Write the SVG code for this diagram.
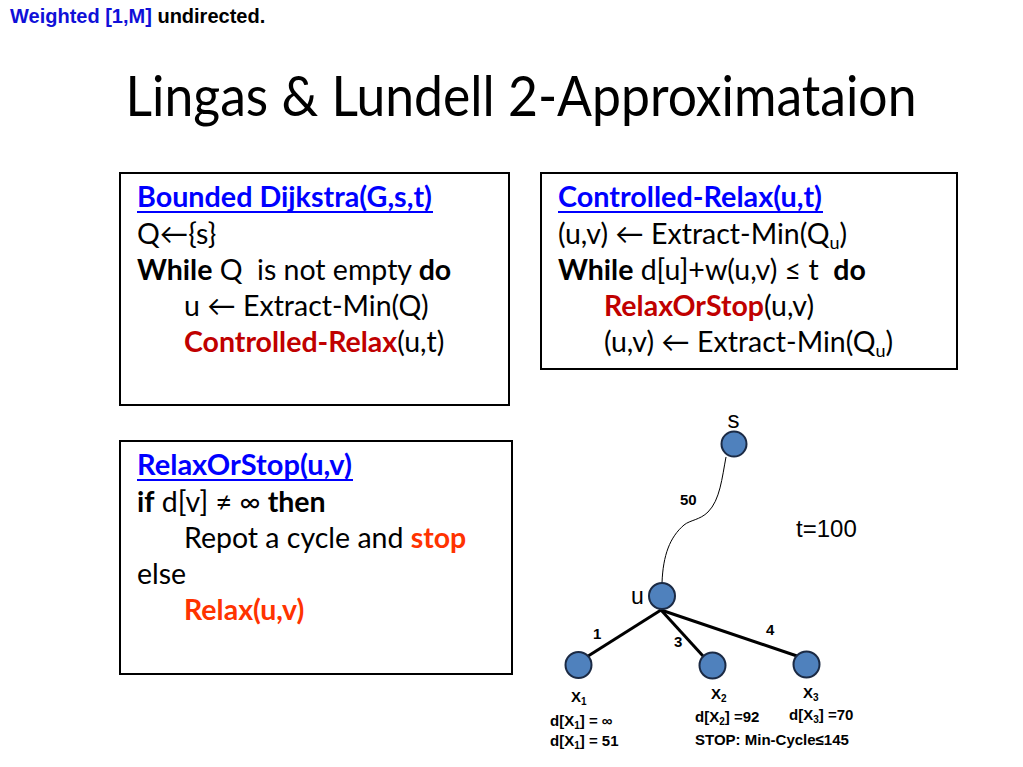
<svg xmlns="http://www.w3.org/2000/svg" width="1023" height="767" viewBox="0 0 1023 767">
<style>
.box{fill:#fff;stroke:#000;stroke-width:2}
.body{font-family:Lato,"Open Sans","Liberation Sans",sans-serif;font-size:28.5px;fill:#000;white-space:pre}
.b{font-weight:bold}
.head{font-weight:bold;fill:#0000ff}
.ul{stroke:#0000ff;stroke-width:2}
.dred{fill:#c00000;font-weight:bold}
.ored{fill:#ff3300;font-weight:bold}
.node{fill:#4f81bd;stroke:#1b2a44;stroke-width:2}
.g{font-family:"Liberation Sans",Arial,sans-serif;fill:#000}
.lbl{font-size:15px;font-weight:bold}
.edge{stroke:#000;stroke-width:3;fill:none}
</style>
<rect width="1023" height="767" fill="#fff"/>
<text x="10" y="23" class="g" font-size="20" font-weight="bold"><tspan fill="#1010d8">Weighted [1,M]</tspan> undirected.</text>
<text x="521" y="116" text-anchor="middle" font-family="Lato,'Open Sans',sans-serif" font-size="57" textLength="791" lengthAdjust="spacingAndGlyphs">Lingas &amp; Lundell 2-Approximataion</text>

<g id="bounded-dijkstra">
<rect class="box" x="120" y="173" width="389" height="232"/>
<text class="body head" x="137" y="207" textLength="295" lengthAdjust="spacingAndGlyphs">Bounded Dijkstra(G,s,t)</text>
<line class="ul" x1="137" y1="212" x2="433" y2="212"/>
<text class="body" x="137" y="244">Q←{s}</text>
<text class="body" x="137" y="280"><tspan class="b">While</tspan> Q  is not empty <tspan class="b">do</tspan></text>
<text class="body" x="184" y="316">u ← Extract-Min(Q)</text>
<text class="body" x="184" y="352"><tspan class="dred">Controlled-Relax</tspan>(u,t)</text>
</g>

<g id="controlled-relax">
<rect class="box" x="541" y="173" width="416" height="196"/>
<text class="body head" x="558" y="207" textLength="264" lengthAdjust="spacingAndGlyphs">Controlled-Relax(u,t)</text>
<line class="ul" x1="558" y1="212" x2="823" y2="212"/>
<text class="body" x="558" y="244">(u,v) ← Extract-Min(Q<tspan font-size="18" dy="5">u</tspan><tspan dy="-5">)</tspan></text>
<text class="body" x="558" y="280"><tspan class="b">While</tspan> d[u]+w(u,v) ≤ t  <tspan class="b">do</tspan></text>
<text class="body" x="604" y="316"><tspan class="dred">RelaxOrStop</tspan>(u,v)</text>
<text class="body" x="604" y="352">(u,v) ← Extract-Min(Q<tspan font-size="18" dy="5">u</tspan><tspan dy="-5">)</tspan></text>
</g>

<g id="relax-or-stop">
<rect class="box" x="120" y="441" width="392" height="233"/>
<text class="body head" x="137" y="475" textLength="215" lengthAdjust="spacingAndGlyphs">RelaxOrStop(u,v)</text>
<line class="ul" x1="137" y1="480" x2="353" y2="480"/>
<text class="body" x="137" y="512"><tspan class="b">if</tspan> d[v] ≠ ∞ <tspan class="b">then</tspan></text>
<text class="body" x="184" y="548">Repot a cycle and <tspan class="ored">stop</tspan></text>
<text class="body" x="137" y="584">else</text>
<text class="body" x="184" y="620"><tspan class="ored">Relax(u,v)</tspan></text>
</g>

<g id="connectors">
<path d="M726,457 C722,478 720,500 708,512 C700,520 690,520 684,525 C670,537 663,555 662,583" fill="none" stroke="#000" stroke-width="1"/>
<line class="edge" x1="661" y1="610" x2="585" y2="658"/>
<line class="edge" x1="661" y1="610" x2="703" y2="656"/>
<line class="edge" x1="661" y1="610" x2="797" y2="656"/>
<text class="g lbl" x="680" y="505">50</text>
<text class="g lbl" x="593" y="639">1</text>
<text class="g lbl" x="674" y="647">3</text>
<text class="g lbl" x="766" y="635">4</text>
</g>

<g id="node-s">
<circle class="node" cx="734" cy="444" r="12.5"/>
<text class="g" x="733.5" y="428" font-size="24" text-anchor="middle">s</text>
</g>
<g id="node-u">
<circle class="node" cx="662" cy="596" r="13"/>
<text class="g" x="631" y="604" font-size="23">u</text>
</g>
<g id="node-x1">
<circle class="node" cx="578.5" cy="665" r="13"/>
<text class="g lbl" x="571" y="702">X<tspan font-size="10" dy="3">1</tspan></text>
<text class="g lbl" x="550" y="726">d[X<tspan font-size="10" dy="3">1</tspan><tspan dy="-3">] = ∞</tspan></text>
<text class="g lbl" x="550" y="746">d[X<tspan font-size="10" dy="3">1</tspan><tspan dy="-3">] = 51</tspan></text>
</g>
<g id="node-x2">
<circle class="node" cx="712.5" cy="665.5" r="13"/>
<text class="g lbl" x="711" y="699">X<tspan font-size="10" dy="3">2</tspan></text>
<text class="g lbl" x="695" y="722">d[X<tspan font-size="10" dy="3">2</tspan><tspan dy="-3">] =92</tspan></text>
<text class="g lbl" x="695" y="745">STOP: Min-Cycle≤145</text>
</g>
<g id="node-x3">
<circle class="node" cx="806.5" cy="664.5" r="13"/>
<text class="g lbl" x="803" y="698">X<tspan font-size="10" dy="3">3</tspan></text>
<text class="g lbl" x="789" y="720">d[X<tspan font-size="10" dy="3">3</tspan><tspan dy="-3">] =70</tspan></text>
</g>
<text class="g" x="796" y="537" font-size="24">t=100</text>
</svg>
